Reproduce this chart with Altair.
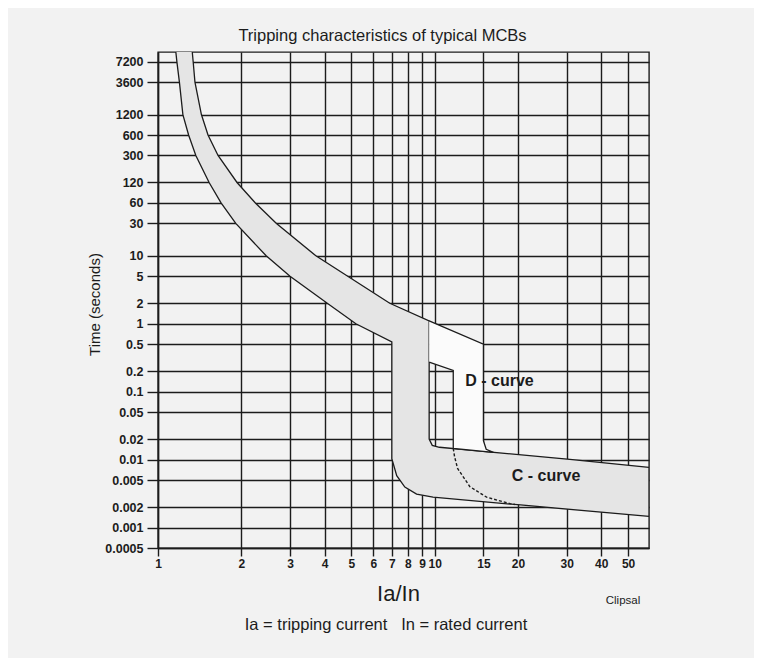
import altair as alt
import pandas as pd

# ---- data (x = Ia/In, t = seconds) ----
# C-curve band outline, traced as one closed polygon
c_band_x = [1.16, 1.17, 1.195, 1.23, 1.29, 1.37, 1.53, 1.69, 1.91, 2.46, 3.0, 4.09, 5.19, 7.0,
            7.0, 7.29, 7.80, 8.6, 9.86, 20.4, 59.5,
            59.5, 30.8, 10.4, 9.8, 9.55, 9.55, 6.88, 4.85, 3.72, 2.68, 2.249, 1.93, 1.648, 1.516, 1.435, 1.36, 1.34, 1.33]
c_band_t = [10000, 7200, 3600, 1200, 600, 300, 120, 60, 30, 10, 5, 2, 1, 0.54,
            0.0103, 0.0058, 0.00394, 0.0031, 0.0028, 0.00215, 0.00146,
            0.0077, 0.0101, 0.0152, 0.0162, 0.020, 1.1, 2, 5, 10, 30, 60, 120, 300, 600, 1200, 3600, 7200, 10000]

# D-curve band outline (white part above the C band)
d_band_x = [9.55, 15.0, 15.0, 15.35, 16.3, 11.67, 11.67, 9.55]
d_band_t = [1.1, 0.5, 0.019, 0.0142, 0.0128, 0.0146, 0.205, 0.273]

# D-curve lower limit, dashed across the C band
d_dash_x = [11.67, 11.8, 12.1, 13.4, 15.4, 18.7, 19.5]
d_dash_t = [0.0146, 0.011, 0.0074, 0.0040, 0.0028, 0.00225, 0.00218]

x_ticks = [1, 2, 3, 4, 5, 6, 7, 8, 9, 10, 15, 20, 30, 40, 50]
y_ticks = [0.0005, 0.001, 0.002, 0.005, 0.01, 0.02, 0.05, 0.1, 0.2, 0.5,
           1, 2, 5, 10, 30, 60, 120, 300, 600, 1200, 3600, 7200]

label_text = ["D - curve", "C - curve"]
label_x = [12.9, 19.0]
label_t = [0.146, 0.0058]

title_text = "Tripping characteristics of typical MCBs"
footnote_text = ["Ia = tripping current\u00a0\u00a0\u00a0In = rated current"]
source_text = ["Clipsal"]

# ---- tables ----
c_df = pd.DataFrame({"x": c_band_x, "t": c_band_t, "i": list(range(len(c_band_x)))})
d_df = pd.DataFrame({"x": d_band_x, "t": d_band_t, "i": list(range(len(d_band_x)))})
dash_df = pd.DataFrame({"x": d_dash_x, "t": d_dash_t, "i": list(range(len(d_dash_x)))})
lab_df = pd.DataFrame({"x": label_x, "t": label_t, "label": label_text})
foot_df = pd.DataFrame({"note": footnote_text})
src_df = pd.DataFrame({"note": source_text})

FONT = "Liberation Sans"
INK = "#1c1c1c"
BG = "#f2f2f2"

W, H = 491, 496

xscale = alt.Scale(type="log", domain=[1, 59.5], nice=False)
yscale = alt.Scale(type="log", domain=[0.0005, 10000], nice=False)

X = alt.X("x:Q", scale=xscale, axis=alt.Axis(
    values=x_ticks, labelExpr="'' + datum.value", title="Ia/In",
    grid=True, gridColor=INK, gridWidth=1.4, gridOpacity=1,
    domain=True, domainColor=INK, domainWidth=1.4,
    ticks=True, tickSize=8, tickColor=INK, tickWidth=1.4,
    labelFont=FONT, labelFontSize=12, labelFontWeight="bold", labelColor=INK,
    labelPadding=2, labelOverlap=False, labelFlush=False,
    titleFont=FONT, titleFontSize=22, titleFontWeight="normal", titleColor=INK,
    titleX=240, titleY=45, titleAlign="center", titleBaseline="middle"))
Y = alt.Y("t:Q", scale=yscale, axis=alt.Axis(
    values=y_ticks, labelExpr="'' + datum.value", title="Time (seconds)",
    grid=True, gridColor=INK, gridWidth=1.4, gridOpacity=1,
    domain=True, domainColor=INK, domainWidth=1.4,
    ticks=True, tickSize=11, tickColor=INK, tickWidth=1.4,
    labelFont=FONT, labelFontSize=12.5, labelFontWeight="bold", labelColor=INK,
    labelPadding=4, labelOverlap=False, labelFlush=False,
    titleFont=FONT, titleFontSize=15, titleFontWeight="normal", titleColor=INK,
    titleX=-64, titleY=252, titleAlign="center", titleBaseline="middle"))

c_band = alt.Chart(c_df).mark_line(
    fill="#e5e5e5", stroke=INK, strokeWidth=1.3, clip=True
).encode(x=X, y=Y, order="i:Q")

d_band = alt.Chart(d_df).mark_line(
    fill="#fbfbfb", stroke=INK, strokeWidth=1.3, clip=True
).encode(x=X, y=Y, order="i:Q")

d_dash = alt.Chart(dash_df).mark_line(
    stroke=INK, strokeWidth=1.4, strokeDash=[3, 2], clip=True
).encode(x=X, y=Y, order="i:Q")

labels = alt.Chart(lab_df).mark_text(
    font=FONT, fontSize=16, fontWeight="bold", color=INK, align="left", baseline="middle"
).encode(x=X, y=Y, text="label:N")

footnote = alt.Chart(foot_df).mark_text(
    font=FONT, fontSize=16.5, color=INK, align="center", baseline="middle"
).encode(x=alt.value(228), y=alt.value(573), text="note:N")

source = alt.Chart(src_df).mark_text(
    font=FONT, fontSize=11.5, color=INK, align="center", baseline="middle"
).encode(x=alt.value(465), y=alt.value(549), text="note:N")

chart = alt.layer(c_band, d_band, d_dash, labels, footnote, source).properties(
    width=W, height=H,
    title=alt.TitleParams(text=title_text, font=FONT, fontSize=16.5, fontWeight="normal",
                          color=INK, anchor="middle", dx=-21, offset=8),
    autosize=alt.AutoSizeParams(type="none"),
    padding={"left": 150, "top": 44, "right": 105, "bottom": 110},
    background=BG,
).configure_view(stroke=INK, strokeWidth=1.4, fill=BG)

chart.save("out.html", embed_options={"renderer": "svg", "actions": False})
